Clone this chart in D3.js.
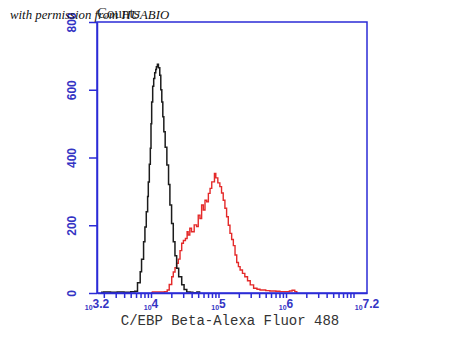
<!DOCTYPE html>
<html>
<head>
<meta charset="utf-8">
<script src="https://cdn.jsdelivr.net/npm/d3@7"></script>
<style>
  body { margin: 0; background: #fff; }
  svg { display: block; }
</style>
</head>
<body>
<div id="chart"></div>
<script>
// DATA (log10 of fluorescence intensity, event counts)
const yTicks = [0, 200, 400, 600, 800]
const xTickExponents = ["3.2", "4", "5", "6", "7.2"]

const blackLog = [3.26, 3.30, 3.40, 3.50, 3.60, 3.70, 3.76, 3.80, 3.84, 3.86, 3.89, 3.91, 3.93, 3.95,
  3.96, 3.975, 3.99, 4.00, 4.01, 4.025, 4.04, 4.055, 4.07, 4.08, 4.095, 4.11, 4.13, 4.145, 4.16,
  4.175, 4.19, 4.21, 4.235, 4.26, 4.28, 4.305, 4.33, 4.355, 4.38, 4.41, 4.455, 4.49, 4.53, 4.58,
  4.62, 4.68, 4.72]
const blackCounts = [2, 3, 2, 3, 2, 4, 5, 30, 63, 100, 151, 195, 240, 285,
  328, 380, 427, 500, 564, 610, 633, 650, 660, 668, 675, 665, 643, 600, 564,
  520, 476, 430, 378, 320, 260, 205, 151, 110, 73, 48, 24, 10, 3, 2,
  1, 3, 0]

const redLog = [4.00, 4.02, 4.10, 4.20, 4.24, 4.27, 4.307, 4.33, 4.356, 4.38, 4.404, 4.43, 4.455,
  4.48, 4.51, 4.535, 4.55, 4.575, 4.60, 4.64, 4.675, 4.70, 4.725, 4.75, 4.775, 4.80, 4.825, 4.85,
  4.875, 4.90, 4.94, 4.96, 4.99, 5.02, 5.045, 5.07, 5.095, 5.12, 5.145, 5.17, 5.195, 5.22, 5.245,
  5.27, 5.295, 5.32, 5.355, 5.39, 5.43, 5.47, 5.52, 5.57, 5.615, 5.70, 5.76, 5.85, 5.91, 5.98,
  6.05, 6.09, 6.13, 6.16]
const redCounts = [0, 3, 3, 4, 9, 25, 48, 62, 75, 88, 100, 125, 147,
  155, 161, 181, 171, 191, 181, 201, 196, 230, 220, 260, 245, 274, 269, 294,
  309, 328, 353, 340, 325, 314, 295, 274, 250, 225, 200, 176, 158, 140, 112,
  90, 78, 68, 58, 48, 36, 24, 14, 11, 9, 7, 6, 5, 4, 4,
  6, 8, 4, 0]

const drawHistogram = () => {
  // DIMENSIONS
  let dimensions = {
    width: 450,
    height: 338,
    margin: { top: 22, right: 83, bottom: 45, left: 97 },
  }
  dimensions.boundedWidth = dimensions.width - dimensions.margin.left - dimensions.margin.right
  dimensions.boundedHeight = dimensions.height - dimensions.margin.top - dimensions.margin.bottom

  const axisColor = "#2b2bd6"
  const labelColor = "#3434c4"

  const wrapper = d3.select("#chart")
    .append("svg")
    .attr("width", dimensions.width)
    .attr("height", dimensions.height)

  const bounds = wrapper.append("g")
    .attr("transform", `translate(${dimensions.margin.left},${dimensions.margin.top})`)

  // SCALES
  const xScale = d3.scaleLog()
    .domain([10 ** 3.2, 10 ** 7.2])
    .range([0, dimensions.boundedWidth])
  const yScale = d3.scaleLinear()
    .domain([0, 800])
    .range([dimensions.boundedHeight, 0])

  // LINES
  const line = d3.line()
    .x(d => xScale(10 ** d[0]))
    .y(d => yScale(d[1]))
    .curve(d3.curveStepAfter)

  bounds.append("path")
    .datum(d3.zip(redLog, redCounts))
    .attr("fill", "none")
    .attr("stroke", "#e42a2a")
    .attr("stroke-width", 1.4)
    .attr("d", line)

  bounds.append("path")
    .datum(d3.zip(blackLog, blackCounts))
    .attr("fill", "none")
    .attr("stroke", "#1c1c1c")
    .attr("stroke-width", 1.5)
    .attr("d", line)

  // FRAME
  bounds.append("rect")
    .attr("width", dimensions.boundedWidth)
    .attr("height", dimensions.boundedHeight)
    .attr("fill", "none")
    .attr("stroke", axisColor)
    .attr("stroke-width", 1.5)

  // X AXIS: minor log ticks, custom labels
  const minorTicks = []
  for (let k = 3; k <= 7; k++) {
    for (let m = 1; m <= 9; m++) {
      const v = m * 10 ** k
      if (v >= 10 ** 3.2 && v <= 10 ** 7.2) minorTicks.push(v)
    }
  }
  const xAxisGenerator = d3.axisBottom(xScale)
    .tickValues(minorTicks)
    .tickSize(5)
    .tickSizeOuter(0)
    .tickFormat("")
  const xAxis = bounds.append("g")
    .attr("transform", `translate(0,${dimensions.boundedHeight})`)
    .call(xAxisGenerator)
  xAxis.select(".domain").attr("stroke", axisColor).attr("stroke-width", 1.5)
  xAxis.selectAll(".tick line").attr("stroke", axisColor).attr("stroke-width", 1.5)

  const xLabels = bounds.append("g")
    .selectAll("text")
    .data(xTickExponents)
    .join("text")
      .attr("x", d => xScale(10 ** +d))
      .attr("y", dimensions.boundedHeight + 16)
      .attr("text-anchor", "middle")
      .attr("fill", labelColor)
      .style("font-family", "Arial, 'Liberation Sans', sans-serif")
      .style("font-weight", "bold")
  xLabels.append("tspan")
    .attr("font-size", 7)
    .attr("dy", 1)
    .text("10")
  xLabels.append("tspan")
    .attr("font-size", 12)
    .attr("dy", -2)
    .text(d => d)

  // Y AXIS
  const yAxisGenerator = d3.axisLeft(yScale)
    .tickValues(yTicks)
    .tickSize(8)
    .tickSizeOuter(0)
  const yAxis = bounds.append("g").call(yAxisGenerator)
  yAxis.select(".domain").attr("stroke", axisColor).attr("stroke-width", 1.5)
  yAxis.selectAll(".tick line").attr("stroke", axisColor).attr("stroke-width", 1.5)
  yAxis.selectAll(".tick text")
    .attr("x", null)
    .attr("dy", null)
    .attr("transform", "translate(-21,0) rotate(-90)")
    .attr("text-anchor", "middle")
    .attr("fill", labelColor)
    .style("font-family", "Arial, 'Liberation Sans', sans-serif")
    .style("font-weight", "bold")
    .style("font-size", "12px")

  // TITLES
  wrapper.append("text")
    .attr("x", 230)
    .attr("y", 325)
    .attr("text-anchor", "middle")
    .attr("fill", "#333")
    .style("font-family", "'Liberation Mono', monospace")
    .style("font-size", "14px")
    .text("C/EBP Beta-Alexa Fluor 488")

  wrapper.append("text")
    .attr("x", 97)
    .attr("y", 18)
    .attr("fill", "#333")
    .style("font-family", "'Liberation Serif', serif")
    .style("font-size", "15px")
    .text("Counts")

  wrapper.append("text")
    .attr("x", 10)
    .attr("y", 19)
    .attr("fill", "#111")
    .style("font-family", "'Liberation Serif', serif")
    .style("font-style", "italic")
    .style("font-size", "12.8px")
    .text("with permission from HUABIO")
}

drawHistogram()
</script>
</body>
</html>
